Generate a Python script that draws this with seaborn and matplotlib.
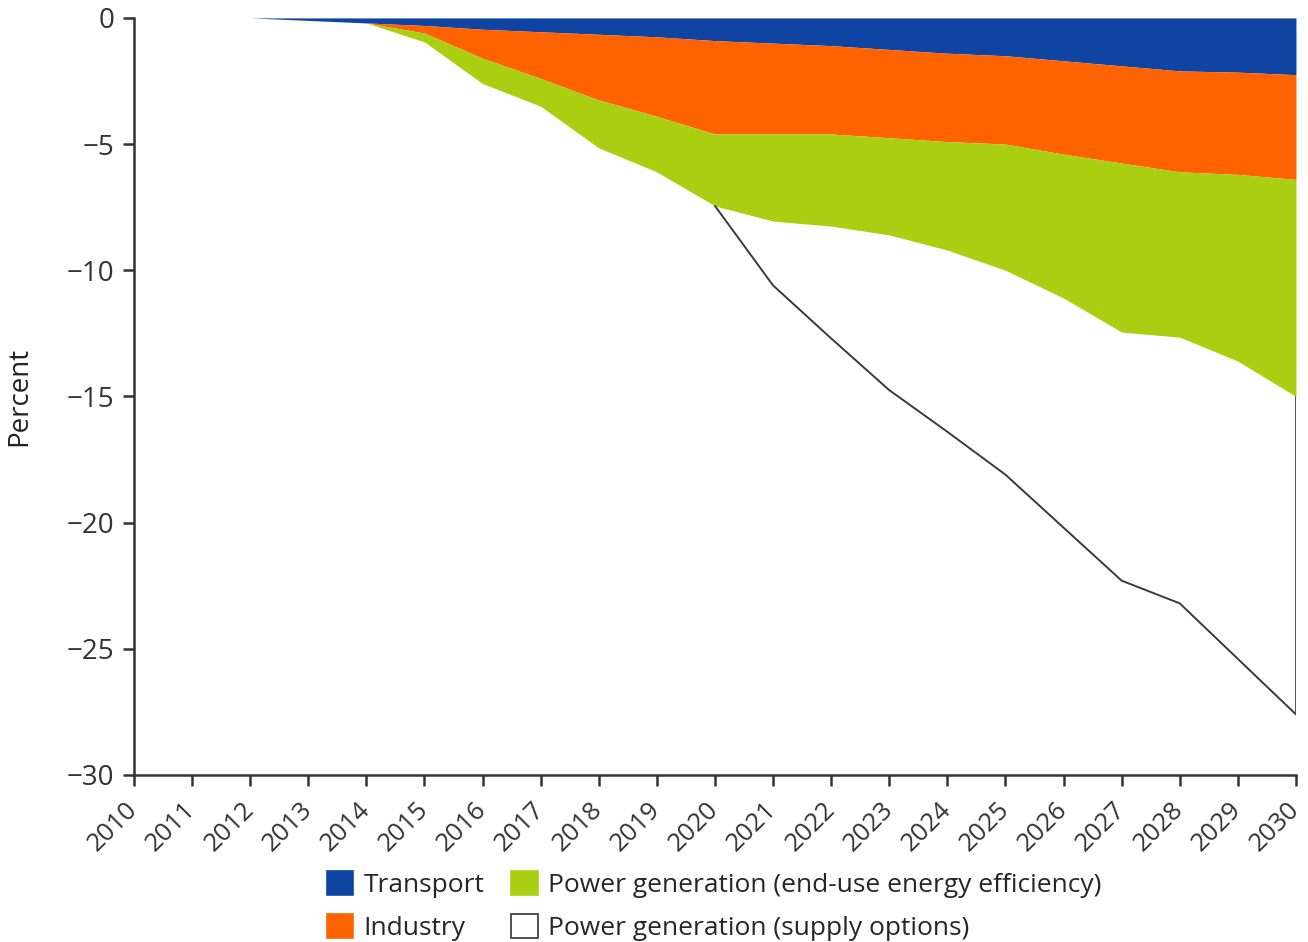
import numpy as np
import pandas as pd
import matplotlib
matplotlib.use("Agg")
import matplotlib.pyplot as plt
from matplotlib.patches import Patch
import seaborn as sns

# ---- data (percent change, band thickness per sector) ----
years = list(range(2010, 2031))
transport = [0, 0, 0, -0.1, -0.2, -0.3, -0.45, -0.55, -0.65, -0.75, -0.9,
             -1.0, -1.1, -1.25, -1.4, -1.5, -1.7, -1.9, -2.1, -2.15, -2.25]
industry = [0, 0, 0, 0, 0, -0.3, -1.15, -1.85, -2.6, -3.15, -3.7,
            -3.6, -3.5, -3.5, -3.5, -3.5, -3.7, -3.85, -4.0, -4.05, -4.15]
power_enduse = [0, 0, 0, 0, 0, -0.35, -1.0, -1.1, -1.9, -2.2, -2.85,
                -3.45, -3.65, -3.85, -4.3, -5.0, -5.7, -6.7, -6.55, -7.4, -8.6]
power_supply = [0, 0, 0, 0, 0, 0, 0, 0, 0, 0, 0,
                -2.55, -4.45, -6.15, -7.2, -8.1, -9.1, -9.85, -10.55, -11.8, -12.6]
labels = ["Transport", "Industry",
          "Power generation (end-use energy efficiency)",
          "Power generation (supply options)"]
colors = ["#0F44A2", "#FF6200", "#AACE12", "#FFFFFF"]
yticks = [0, -5, -10, -15, -20, -25, -30]

sns.set_theme(style="ticks")
plt.rcParams['font.family'] = ['Open Sans', 'DejaVu Sans']

fig = plt.figure(figsize=(13.08, 9.42), dpi=100)
ax = fig.add_axes([0.1024, 0.1773, 0.8884, 0.8037])

ax.stackplot(years, transport, industry, power_enduse, colors=colors[:3],
             linewidth=0)

base = np.array(transport) + np.array(industry) + np.array(power_enduse)
total = base + np.array(power_supply)
df = pd.DataFrame({"year": years, "total": total, "base": base})
sub = df[df["year"] >= 2020]
sns.lineplot(data=sub, x="year", y="total", color="#3a3a3a", linewidth=1.4, ax=ax)
ax.vlines(years[-1], total[-1], base[-1], color="#555555", linewidth=1.4)

ax.set_xlim(2010, 2030)
ax.set_ylim(-30, 0)
ax.set_xticks(years)
ax.set_xticklabels([str(y) for y in years], rotation=45, ha="right",
                   va="center", rotation_mode="anchor")
ax.set_yticks(yticks)
ax.set_yticklabels([str(v).replace("-", "\u2212") for v in yticks])
ax.tick_params(axis="y", labelsize=20, colors="#333333", length=8,
               width=1.8, pad=6)
ax.tick_params(axis="x", labelsize=18.5, colors="#333333", length=8,
               width=1.8, pad=14)
for s in ["top", "right"]:
    ax.spines[s].set_visible(False)
for s in ["left", "bottom"]:
    ax.spines[s].set_color("#333333")
    ax.spines[s].set_linewidth(1.8)
ax.set_xlabel("")
ax.set_ylabel("Percent", fontsize=20, color="#222222", labelpad=24)

handles = [Patch(facecolor=c, edgecolor=("#333333" if c == "#FFFFFF" else c),
                 linewidth=1.2) for c in colors]
fig.legend(handles, labels, ncol=2, loc="center", bbox_to_anchor=(0.546, 0.038),
           frameon=False, fontsize=19, handlelength=1.0, handleheight=1.0,
           handletextpad=0.4, columnspacing=1.0, labelspacing=0.6)

fig.savefig("out.png", dpi=100, facecolor="white")
